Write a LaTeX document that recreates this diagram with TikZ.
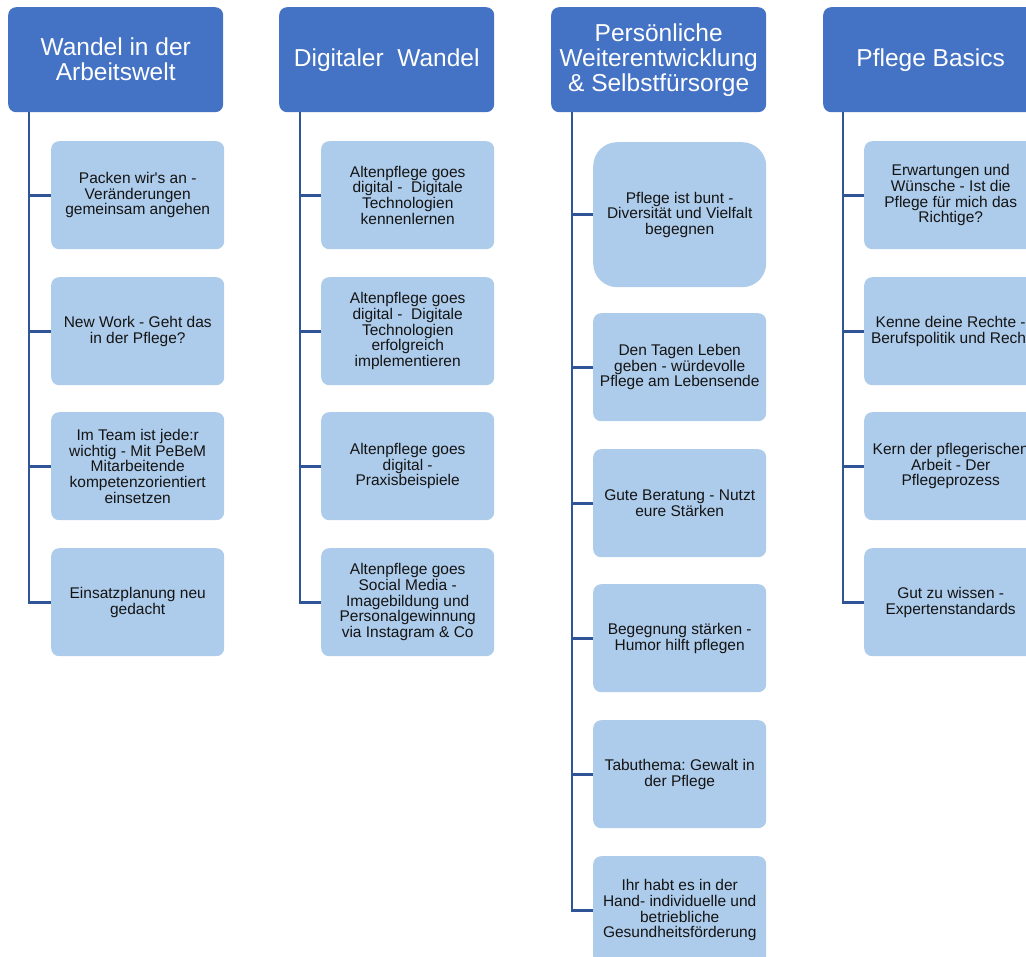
\documentclass[tikz,border=0pt]{standalone}
\usepackage{fontspec}
\setmainfont{Liberation Sans}[Ligatures=TeXOff]
\frenchspacing
\definecolor{hdrblue}{HTML}{4472C4}
\definecolor{kidblue}{HTML}{ADCBEA}
\definecolor{connblue}{HTML}{2F5597}
\begin{document}
\begin{tikzpicture}[x=1pt,y=-1pt,
  hdr/.style={anchor=north west, rectangle, rounded corners=8pt, fill=hdrblue, text=white,
    minimum width=215pt, minimum height=105pt, inner sep=0pt, align=center,
    font=\fontsize{24.5}{25}\selectfont},
  kid/.style={anchor=north west, rectangle, rounded corners=8pt, fill=kidblue, text=black!92,
    minimum width=173pt, minimum height=108pt, inner sep=0pt, align=center,
    font=\fontsize{15.5}{15.7}\selectfont},
  bigkid/.style={kid, rounded corners=24pt, minimum height=145pt},
  conn/.style={draw=connblue, line width=2.8pt, line join=miter}
]
\useasboundingbox (0,0) rectangle (1026,957);
\clip (0,0) rectangle (1026,957);

% headers
\node[hdr] (h1) at (8,7) {Wandel in der\\Arbeitswelt};
\node[hdr] (h2) at (279,7) {Digitaler\ \ Wandel};
\node[hdr] (h3) at (551,7) {Persönliche\\Weiterentwicklung\\\& Selbstfürsorge};
\node[hdr] (h4) at (823,7) {Pflege Basics};

% column 1
\node[kid] (a1) at (51,141) {Packen wir's an -\\Veränderungen\\gemeinsam angehen};
\node[kid] (a2) at (51,277) {New Work - Geht das\\in der Pflege?};
\node[kid] (a3) at (51,412) {Im Team ist jede:r\\wichtig - Mit PeBeM\\Mitarbeitende\\kompetenzorientiert\\einsetzen};
\node[kid] (a4) at (51,548) {Einsatzplanung neu\\gedacht};

% column 2
\node[kid] (b1) at (321,141) {Altenpflege goes\\digital -\ \ Digitale\\Technologien\\kennenlernen};
\node[kid] (b2) at (321,277) {Altenpflege goes\\digital -\ \ Digitale\\Technologien\\erfolgreich\\implementieren};
\node[kid] (b3) at (321,412) {Altenpflege goes\\digital -\\Praxisbeispiele};
\node[kid] (b4) at (321,548) {Altenpflege goes\\Social Media -\\Imagebildung und\\Personalgewinnung\\via Instagram \& Co};

% column 3
\node[bigkid] (c1) at (593,142) {Pflege ist bunt -\\Diversität und Vielfalt\\begegnen};
\node[kid] (c2) at (593,313) {Den Tagen Leben\\geben - würdevolle\\Pflege am Lebensende};
\node[kid] (c3) at (593,449) {Gute Beratung - Nutzt\\eure Stärken};
\node[kid] (c4) at (593,584) {Begegnung stärken -\\Humor hilft pflegen};
\node[kid] (c5) at (593,720) {Tabuthema: Gewalt in\\der Pflege};
\node[kid] (c6) at (593,856) {Ihr habt es in der\\Hand- individuelle und\\betriebliche\\Gesundheitsförderung};

% column 4
\node[kid] (d1) at (864,141) {Erwartungen und\\Wünsche - Ist die\\Pflege für mich das\\Richtige?};
\node[kid] (d2) at (864,277) {Kenne deine Rechte -\\Berufspolitik und Recht};
\node[kid] (d3) at (864,412) {Kern der pflegerischen\\Arbeit - Der\\Pflegeprozess};
\node[kid] (d4) at (864,548) {Gut zu wissen -\\Expertenstandards};

% connectors
\foreach \k in {a1,a2,a3,a4} \draw[conn] ([xshift=21pt]h1.south west) |- (\k.west);
\foreach \k in {b1,b2,b3,b4} \draw[conn] ([xshift=21pt]h2.south west) |- (\k.west);
\foreach \k in {c1,c2,c3,c4,c5,c6} \draw[conn] ([xshift=21pt]h3.south west) |- (\k.west);
\foreach \k in {d1,d2,d3,d4} \draw[conn] ([xshift=20pt]h4.south west) |- (\k.west);
\end{tikzpicture}
\end{document}
